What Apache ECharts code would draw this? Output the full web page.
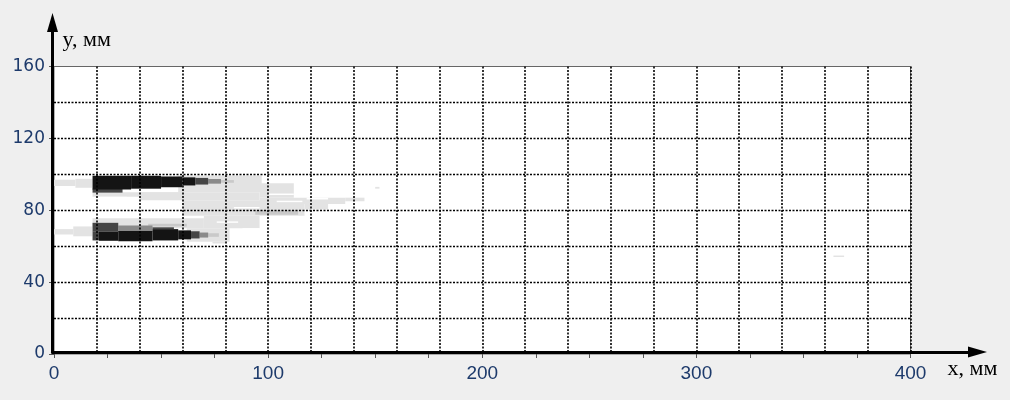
<!DOCTYPE html>
<html>
<head>
<meta charset="utf-8">
<script src="https://cdn.jsdelivr.net/npm/echarts@6/dist/echarts.min.js"></script>
<style>
  html, body { margin: 0; padding: 0; background: #efefef; }
  #chart { width: 1010px; height: 400px; }
</style>
</head>
<body>
<div id="chart"></div>
<script>
// Scan field on the x–y plane (mm). Each patch is [x0, x1, y0, y1].
const lightPatches = [
  [0, 10, 93.5, 97], [10, 18, 92.5, 97.5],
  [0, 9, 66.5, 69.5], [9, 18, 65.5, 71],
  [18, 60, 87.5, 90], [40, 96, 85.5, 90], [58, 97, 90, 99.3],
  [96, 112, 87, 95], [96, 136, 83.5, 87], [136, 145, 85, 87],
  [60, 117, 77, 85.5], [117, 128, 80.5, 83.5],
  [70, 96, 70, 77], [62, 82, 62.5, 70], [18, 70, 70, 75.5], [74, 80, 61.5, 62.5],
  [150, 152, 92, 93], [364, 369, 54, 54.8]
];
const gapPatches = [
  [100, 112, 88.5, 89.3], [84, 96, 81, 81.8], [104, 116, 84.5, 85.3],
  [76, 86, 73, 73.8], [20, 34, 86, 87.5], [88, 96, 63, 70], [118, 128, 86, 87]
];
const palePatches = [
  [94, 114, 77.5, 80], [78, 84, 95.3, 96.8], [72, 77, 65.2, 67.2], [44, 62, 71, 72.5]
];
const midPatches = [
  [72, 78, 94.8, 97.4], [30, 46, 68, 71.5], [68, 72, 64.8, 67.6]
];
const darkPatches = [
  [66, 72, 94.3, 98], [18, 32, 89.8, 92], [18, 30, 68, 73], [18, 21, 63.2, 68],
  [64, 68, 64.3, 68.3], [46, 56, 69.5, 70.5]
];
const blackPatches = [
  [18, 36, 91.5, 99.2], [36, 50, 92, 99.2], [50, 60, 92.8, 98.8], [60, 66, 93.8, 98.3],
  [21, 30, 63, 68], [30, 46, 62.7, 68.5], [46, 58, 63.2, 69.5], [58, 64, 63.8, 68.8]
];

const xRange = [0, 400];
const yRange = [0, 160];

function patchSeries(name, data, color) {
  return {
    name: name,
    type: 'custom',
    xAxisIndex: 0,
    yAxisIndex: 0,
    z: 1,
    silent: true,
    encode: { x: [0, 1], y: [2, 3] },
    data: data,
    renderItem: function (params, api) {
      const a = api.coord([api.value(0), api.value(3)]);
      const b = api.coord([api.value(1), api.value(2)]);
      return {
        type: 'rect',
        shape: { x: a[0], y: a[1], width: b[0] - a[0], height: b[1] - a[1] },
        style: { fill: color }
      };
    }
  };
}

const labelColor = '#1d3a6b';
const dottedV = { color: '#000', type: [2, 1.5], width: 1.6 };
const dottedH = { color: '#000', type: [2, 1.5], width: 1.4 };
const arrowLine = { show: true, onZero: false, symbol: ['none', 'triangle'], symbolSize: [11, 19],
  lineStyle: { color: '#000', width: 3 } };
const nameStyle = { fontFamily: 'Liberation Serif', fontSize: 22, color: '#000', align: 'left' };

const chart = echarts.init(document.getElementById('chart'), null, { renderer: 'canvas' });
chart.setOption({
  backgroundColor: '#efefef',
  animation: false,
  grid: [
    { left: 54, right: 99.5, top: 66.5, bottom: 46, show: true,
      backgroundColor: '#ffffff', borderColor: '#666666', borderWidth: 1 },
    { left: 52.5, right: 32.5, top: 22.5, bottom: 48 }
  ],
  xAxis: [
    { gridIndex: 0, type: 'value', min: xRange[0], max: xRange[1], interval: 20,
      position: 'bottom', z: 5,
      axisLine: { show: false }, axisTick: { show: false }, axisLabel: { show: false },
      splitLine: { show: true, showMinLine: false, lineStyle: dottedV } },
    { gridIndex: 0, type: 'value', min: xRange[0], max: xRange[1], interval: 100,
      position: 'bottom',
      axisLine: { show: false },
      axisTick: { show: true, length: 4, lineStyle: { color: '#555' } },
      minorTick: { show: true, splitNumber: 4, length: 4, lineStyle: { color: '#555' } },
      axisLabel: { color: labelColor, fontSize: 19, fontFamily: 'Liberation Sans', margin: 10 },
      splitLine: { show: false } },
    { gridIndex: 1, type: 'value', min: 0, max: 1, z: 10,
      axisLine: arrowLine,
      axisTick: { show: false }, axisLabel: { show: false }, splitLine: { show: false },
      name: 'x, мм', nameLocation: 'end', nameGap: -30,
      nameTextStyle: Object.assign({ verticalAlign: 'top', padding: [6, 0, 0, 0] }, nameStyle) }
  ],
  yAxis: [
    { gridIndex: 0, type: 'value', min: yRange[0], max: yRange[1], interval: 20,
      position: 'left', z: 5,
      axisLine: { show: false }, axisTick: { show: false }, axisLabel: { show: false },
      splitLine: { show: true, showMinLine: false, showMaxLine: false, lineStyle: dottedH } },
    { gridIndex: 0, type: 'value', min: yRange[0], max: yRange[1], interval: 40,
      position: 'left',
      axisLine: { show: false },
      axisTick: { show: true, length: 5, lineStyle: { color: '#555' } },
      minorTick: { show: true, splitNumber: 4, length: 3, lineStyle: { color: '#555' } },
      axisLabel: { color: labelColor, fontSize: 17, fontFamily: 'DejaVu Sans', margin: 9 },
      splitLine: { show: false } },
    { gridIndex: 1, type: 'value', min: 0, max: 1, z: 10,
      axisLine: arrowLine,
      axisTick: { show: false }, axisLabel: { show: false }, splitLine: { show: false },
      name: 'y, мм', nameLocation: 'end', nameGap: -18,
      nameTextStyle: Object.assign({ verticalAlign: 'middle', padding: [0, 0, 0, 10] }, nameStyle) }
  ],
  series: [
    patchSeries('light', lightPatches, '#e3e3e3'),
    patchSeries('gap', gapPatches, '#ffffff'),
    patchSeries('pale', palePatches, '#c9c9c9'),
    patchSeries('mid', midPatches, '#8a8a8a'),
    patchSeries('dark', darkPatches, '#454545'),
    patchSeries('black', blackPatches, '#141414')
  ]
});
</script>
</body>
</html>
